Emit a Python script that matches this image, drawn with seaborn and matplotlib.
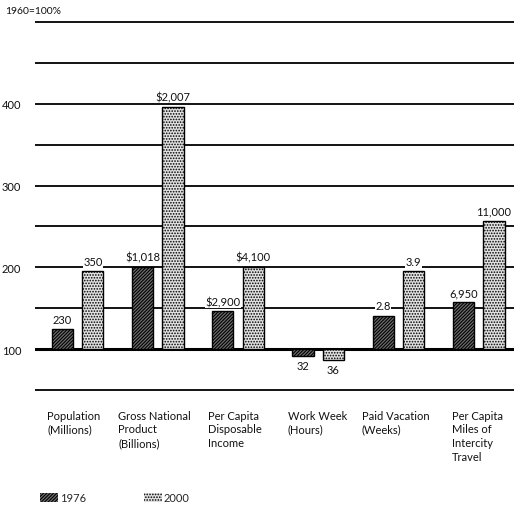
import matplotlib
matplotlib.use("Agg")
import matplotlib.pyplot as plt
import matplotlib.ticker as mticker
from matplotlib.patches import Patch
import seaborn as sns
import pandas as pd

# ---- data (index, 1960 = 100%) ----
categories = ["Population\n(Millions)", "Gross National\nProduct\n(Billions)",
              "Per Capita\nDisposable\nIncome", "Work Week\n(Hours)",
              "Paid Vacation\n(Weeks)", "Per Capita\nMiles of\nIntercity\nTravel"]
index_1976 = [124, 201, 146, 92, 141, 157]
index_2000 = [195, 396, 201, 87, 195, 257]
labels_1976 = ["230", "$1,018", "$2,900", "32", "2.8", "6,950"]
labels_2000 = ["350", "$2,007", "$4,100", "36", "3.9", "11,000"]
years = ["1976", "2000"]
base = 100
yticks_major = [100, 200, 300, 400]
grid_levels = [50, 100, 150, 200, 250, 300, 350, 400, 450, 500]

# layout only: left offset of each category caption (category units)
caption_offsets = [-0.38, -0.49, -0.375, -0.38, -0.46, -0.33]

sns.set_theme(style="white")
plt.rcParams["font.family"] = ["Lato", "DejaVu Sans"]
plt.rcParams["hatch.linewidth"] = 0.8
plt.rcParams["hatch.color"] = "black"

rows = []
for i, c in enumerate(categories):
    rows.append({"cat": c, "year": years[0], "delta": index_1976[i] - base})
    rows.append({"cat": c, "year": years[1], "delta": index_2000[i] - base})
df = pd.DataFrame(rows)

fig = plt.figure(figsize=(5.14, 5.06), dpi=100)
ax = fig.add_axes([35 / 514, 0.2111, 1 - 35 / 514, 0.7597])

# gridlines
for lv in grid_levels:
    ax.axhline(lv - base, color="black", lw=2.2 if lv == base else 1.3, zorder=1)

sns.barplot(data=df, x="cat", y="delta", hue="year", hue_order=years,
            palette=["#555555", "#dddddd"], width=0.76, gap=0.3,
            edgecolor="black", linewidth=1.0, legend=False, ax=ax, zorder=3)

hatches = ["//////////", "......"]
facecols = ["#6e6e6e", "#e2e2e2"]
for k, cont in enumerate(ax.containers):
    for p in cont:
        p.set_hatch(hatches[k])
        p.set_facecolor(facecols[k])
        p.set_edgecolor("black")
        p.set_zorder(3)

# value labels
for k, (cont, labs) in enumerate(zip(ax.containers, [labels_1976, labels_2000])):
    for p, lab in zip(cont, labs):
        h = p.get_height()
        xc = p.get_x() + p.get_width() / 2
        if h >= 0:
            ax.annotate(lab, (xc, h), xytext=(0, 3), textcoords="offset points",
                        ha="center", va="bottom", fontsize=8, color="#111111",
                        zorder=4,
                        bbox=dict(boxstyle="square,pad=0.05", fc="white", ec="none"))
        else:
            ax.annotate(lab, (xc, h), xytext=(0, -3), textcoords="offset points",
                        ha="center", va="top", fontsize=8, color="#111111", zorder=4)

ax.set_xlim(-0.53, 5.44)
ax.set_ylim(40 - base, 510 - base)
ax.set_yticks([v - base for v in yticks_major])
ax.yaxis.set_major_formatter(mticker.FuncFormatter(lambda v, pos: f"{int(round(v + base))}"))
ax.tick_params(axis="y", length=0, pad=10, labelsize=8, labelcolor="#111111")
ax.set_xticks([])
ax.set_xlabel("")
ax.set_ylabel("")
for s in ax.spines.values():
    s.set_visible(False)

# category labels below chart
for i, c in enumerate(categories):
    ax.text(i + caption_offsets[i], -0.03, c, transform=ax.get_xaxis_transform(),
            ha="left", va="top", fontsize=8, linespacing=1.3, color="#111111")

fig.text(5 / 514, 1 - 12 / 506, "1960=100%", ha="left", va="center",
         fontsize=7.5, color="#111111")

handles = [Patch(facecolor=facecols[0], hatch=hatches[0], edgecolor="black", linewidth=0),
           Patch(facecolor=facecols[1], hatch=hatches[1], edgecolor="black", linewidth=0)]
fig.legend(handles, years, loc="center left", bbox_to_anchor=(40 / 514, 1 - 499 / 506),
           ncol=2, frameon=False, fontsize=8, handlelength=1.6, handleheight=0.8,
           handletextpad=0.2, columnspacing=5.2, borderpad=0, borderaxespad=0)

fig.savefig("out.png", dpi=100)
